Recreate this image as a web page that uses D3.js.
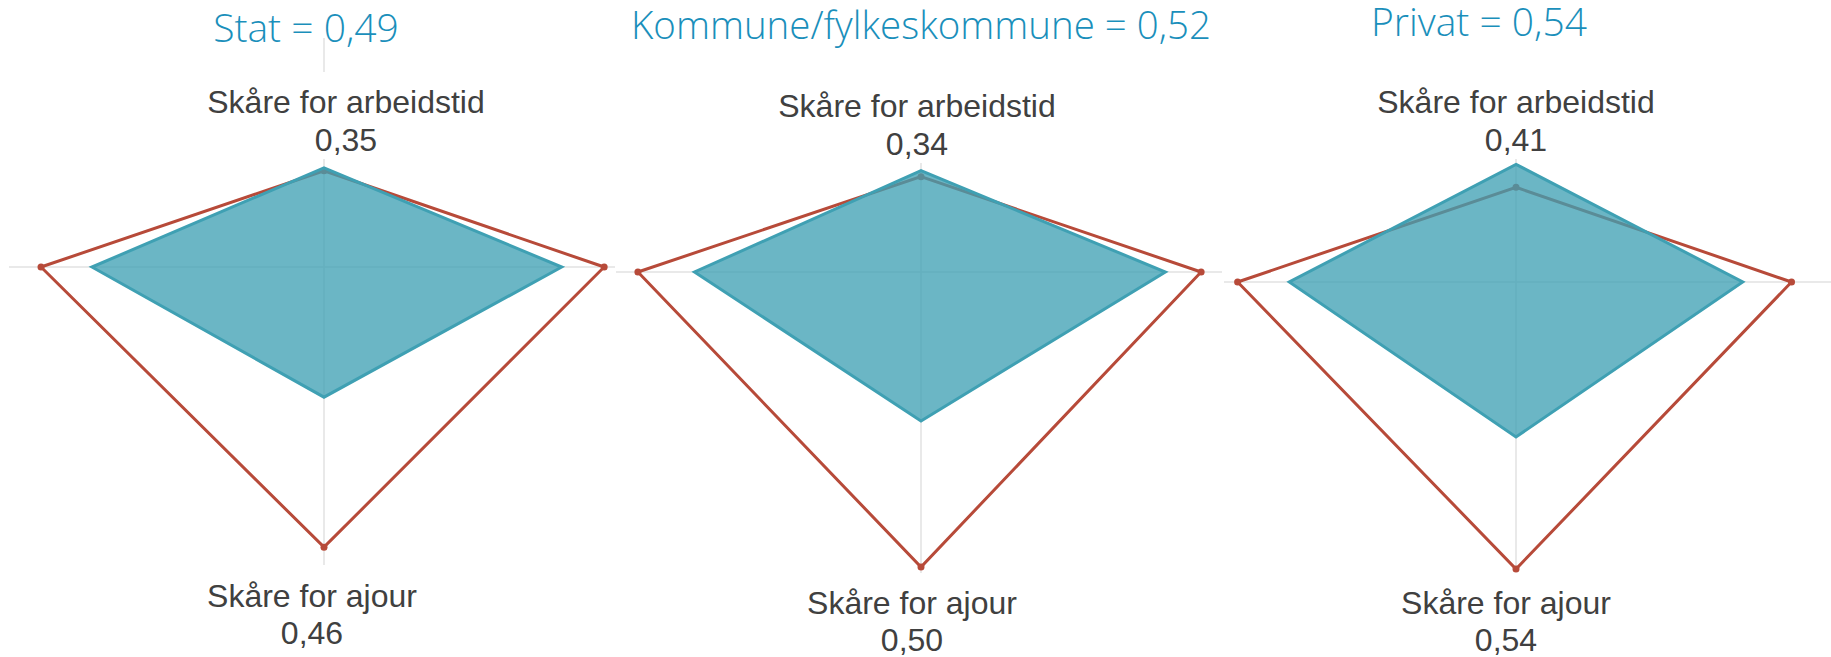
<!DOCTYPE html>
<html><head><meta charset="utf-8">
<script src="https://cdn.jsdelivr.net/npm/d3@7"></script>
<style>html,body{margin:0;padding:0;background:#fff;} svg{display:block}</style>
</head><body>
<svg id="chart" width="1831" height="657"></svg>
<script>
// ---- data ----
const sectors = ["Stat", "Kommune/fylkeskommune", "Privat"];
const sectorTotals = [0.49, 0.52, 0.54];
// axes clockwise from the top
const axisLabels = ["Skåre for arbeidstid", "", "Skåre for ajour", ""];
const statValues = [0.35, 0.84, 0.46, 0.82];
const kommuneValues = [0.34, 0.82, 0.50, 0.76];
const privatValues = [0.41, 0.79, 0.54, 0.79];
const statReference = [0.34, 0.99, 0.99, 1.00];
const kommuneReference = [0.32, 0.94, 0.99, 0.95];
const privatReference = [0.33, 0.96, 1.00, 0.97];

const sectorValues = [statValues, kommuneValues, privatValues];
const referenceValues = [statReference, kommuneReference, privatReference];

// ---- layout ----
const layout = [
  {cx: 324, cy: 267, R: 283, hx: [9, 615], vy: [38, 565], title: [306, 42], top: [346, 113], bottom: [312, 607]},
  {cx: 921, cy: 272, R: 298, hx: [616, 1222], vy: [80, 573], title: [921, 39], top: [917, 117], bottom: [912, 614]},
  {cx: 1516, cy: 282, R: 287, hx: [1224, 1831], vy: [80, 572], title: [1479, 36], top: [1516, 113], bottom: [1506, 614]}
];

const teal = "#3fa0b3", red = "#b74a39", grid = "#e2e2e2", textCol = "#404040", titleCol = "#1a8fbb";
const locale = d3.formatLocale({decimal: ",", thousands: " ", grouping: [3], currency: ["", " kr"]});
const fmt = locale.format(".2f");

const svg = d3.select("#chart");

sectors.forEach((sector, p) => {
  const L = layout[p];
  const r = d3.scaleLinear().domain([0, 1]).range([0, L.R]);
  const angle = d3.scaleLinear().domain([0, axisLabels.length]).range([0, 2 * Math.PI]);
  const g = svg.append("g");

  // axis lines
  g.append("line").attr("x1", L.hx[0]).attr("x2", L.hx[1]).attr("y1", L.cy).attr("y2", L.cy)
    .attr("stroke", grid).attr("stroke-width", 1.5);
  g.append("line").attr("x1", L.cx).attr("x2", L.cx).attr("y1", L.vy[0]).attr("y2", L.vy[1])
    .attr("stroke", grid).attr("stroke-width", 1.5);

  const plot = g.append("g").attr("transform", `translate(${L.cx},${L.cy})`);
  const radial = d3.lineRadial()
    .angle((d, i) => angle(i))
    .radius(d => r(d))
    .curve(d3.curveLinearClosed);

  // reference series (red outline with markers)
  plot.append("path").datum(referenceValues[p])
    .attr("d", radial).attr("fill", "none").attr("stroke", red).attr("stroke-width", 3);
  plot.selectAll("circle.ref").data(referenceValues[p]).join("circle").attr("class", "ref")
    .attr("cx", (d, i) => r(d) * Math.sin(angle(i)))
    .attr("cy", (d, i) => -r(d) * Math.cos(angle(i)))
    .attr("r", 3.5).attr("fill", red);

  // sector series (teal filled)
  plot.append("path").datum(sectorValues[p])
    .attr("d", radial).attr("fill", teal).attr("fill-opacity", 0.77)
    .attr("stroke", teal).attr("stroke-width", 3);

  // top label
  const vTop = sectorValues[p][0];
  g.append("rect").attr("x", L.top[0] - 145).attr("y", L.top[1] - 41).attr("width", 290)
    .attr("height", 38 + 41 + 8).attr("fill", "#fff");
  g.append("text").attr("x", L.top[0]).attr("y", L.top[1]).text(axisLabels[0]);
  g.append("text").attr("x", L.top[0]).attr("y", L.top[1] + 38).text(fmt(vTop));
  // bottom label
  const vBot = sectorValues[p][2];
  g.append("text").attr("x", L.bottom[0]).attr("y", L.bottom[1]).text(axisLabels[2]);
  g.append("text").attr("x", L.bottom[0]).attr("y", L.bottom[1] + 37).text(fmt(vBot));
  g.selectAll("text").attr("text-anchor", "middle").attr("fill", textCol)
    .attr("font-family", "'Liberation Sans', Arial, sans-serif").attr("font-size", 32);

  // title
  const t = g.append("text").attr("x", L.title[0]).attr("y", L.title[1])
    .attr("text-anchor", "middle").attr("fill", titleCol)
    .attr("font-family", "'Open Sans', 'Noto Sans', sans-serif").attr("font-size", 39)
    .attr("font-weight", 300)
    .text(`${sector} = ${fmt(sectorTotals[p])}`);
  // Keep the title widths close to the original's narrower face
  const w = t.node().getComputedTextLength();
  const maxW = {0: 186, 1: 580, 2: 216}[p];
  if (w > maxW) t.attr("textLength", maxW).attr("lengthAdjust", "spacingAndGlyphs");
});
</script>
</body></html>
